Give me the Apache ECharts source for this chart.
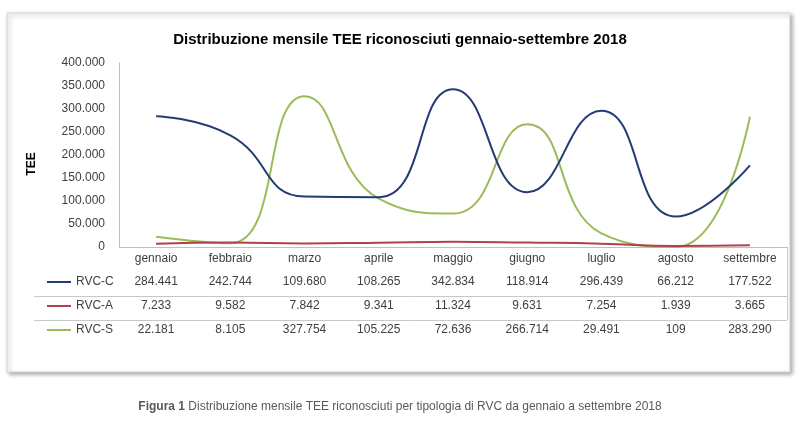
<!DOCTYPE html>
<html>
<head>
<meta charset="utf-8">
<script src="https://cdn.jsdelivr.net/npm/echarts@6/dist/echarts.min.js"></script>
<style>
html, body { margin: 0; padding: 0; background: #fff; }
#chart { width: 800px; height: 436px; }
</style>
</head>
<body>
<div id="chart"></div>
<script>
// dati
const months = ['gennaio', 'febbraio', 'marzo', 'aprile', 'maggio', 'giugno', 'luglio', 'agosto', 'settembre'];
const rvcC = [284441, 242744, 109680, 108265, 342834, 118914, 296439, 66212, 177522];
const rvcA = [7233, 9582, 7842, 9341, 11324, 9631, 7254, 1939, 3665];
const rvcS = [22181, 8105, 327754, 105225, 72636, 266714, 29491, 109, 283290];
const seriesNames = ['RVC-C', 'RVC-A', 'RVC-S'];
const yMin = 0;
const yMax = 400000;
const yStep = 50000;

const colors = ['#233c74', '#b0404a', '#9bbb59'];
const labelFont = 'Liberation Sans';
const textColor = '#404040';

// separatore delle migliaia all'italiana
const fmt = (v) => String(v).replace(/\B(?=(\d{3})+(?!\d))/g, '.');

const seriesData = [rvcC, rvcA, rvcS];

// righe della tabella dati sotto l'asse x
const rowOffsets = [23, 47, 71];
const tableAxes = seriesData.map((vals, i) => ({
  type: 'category',
  data: vals.map(fmt),
  position: 'bottom',
  offset: rowOffsets[i],
  axisLine: { show: false },
  axisTick: { show: false },
  splitLine: { show: false },
  axisLabel: { margin: 6, color: textColor, fontFamily: labelFont, fontSize: 12, interval: 0 },
}));

const chart = echarts.init(document.getElementById('chart'));

const option = {
  animation: false,
  color: colors,
  title: {
    text: 'Distribuzione mensile TEE riconosciuti gennaio-settembre 2018',
    left: 'center',
    top: 27,
    textStyle: { fontFamily: 'Liberation Sans', fontSize: 15, fontWeight: 'bold', color: '#000' },
  },
  legend: {
    data: seriesNames,
    orient: 'vertical',
    left: 42,
    top: 269,
    icon: 'rect',
    itemWidth: 24,
    itemHeight: 2,
    itemGap: 8,
    textStyle: { fontFamily: labelFont, fontSize: 12, color: textColor, lineHeight: 16 },
  },
  grid: { left: 119, right: 13, top: 63, bottom: 189 },
  xAxis: [
    {
      type: 'category',
      data: months,
      boundaryGap: true,
      axisLine: { show: true, lineStyle: { color: '#bfbfbf', width: 1 } },
      axisTick: { show: false },
      splitLine: { show: false },
      axisLabel: { margin: 6, color: textColor, fontFamily: labelFont, fontSize: 12, interval: 0 },
    },
    ...tableAxes,
  ],
  yAxis: {
    type: 'value',
    min: yMin,
    max: yMax,
    interval: yStep,
    name: 'TEE',
    nameLocation: 'middle',
    nameGap: 81,
    nameRotate: 90,
    nameTextStyle: { fontFamily: 'Liberation Sans', fontSize: 12, fontWeight: 'bold', color: '#000', padding: [0, 18, 0, 0] },
    axisLine: { show: true, lineStyle: { color: '#bfbfbf', width: 1 } },
    axisTick: { show: false },
    splitLine: { show: false },
    axisLabel: { margin: 14, color: textColor, fontFamily: labelFont, fontSize: 12, formatter: fmt },
  },
  series: seriesNames.map((name, i) => ({
    name,
    type: 'line',
    data: seriesData[i],
    smooth: 0.5,
    showSymbol: false,
    lineStyle: { width: 2, color: colors[i] },
    itemStyle: { color: colors[i] },
    z: 3 - i,
  })),
  graphic: [
    {
      type: 'rect',
      z: -10,
      shape: { x: 7, y: 13, width: 783, height: 359 },
      style: { fill: '#fff', stroke: '#d4d4d4', lineWidth: 1, shadowBlur: 4, shadowOffsetX: 2, shadowOffsetY: 2, shadowColor: 'rgba(0,0,0,0.35)' },
      silent: true,
    },
    { type: 'line', shape: { x1: 34, y1: 296.5, x2: 787, y2: 296.5 }, style: { stroke: '#c8c8c8', lineWidth: 1 }, silent: true },
    { type: 'line', shape: { x1: 34, y1: 320.5, x2: 787, y2: 320.5 }, style: { stroke: '#c8c8c8', lineWidth: 1 }, silent: true },
    { type: 'line', shape: { x1: 787.5, y1: 247, x2: 787.5, y2: 320 }, style: { stroke: '#c8c8c8', lineWidth: 1 }, silent: true },
    {
      type: 'text',
      left: 'center',
      top: 401,
      style: {
        text: '{b|Figura 1} Distribuzione mensile TEE riconosciuti per tipologia di RVC da gennaio a settembre 2018',
        fontFamily: 'Liberation Sans',
        fontSize: 12,
        fill: '#595959',
        rich: { b: { fontWeight: 'bold', fontFamily: 'Liberation Sans', fontSize: 12, fill: '#595959' } },
      },
      silent: true,
    },
  ],
};

chart.setOption(option);
</script>
</body>
</html>
